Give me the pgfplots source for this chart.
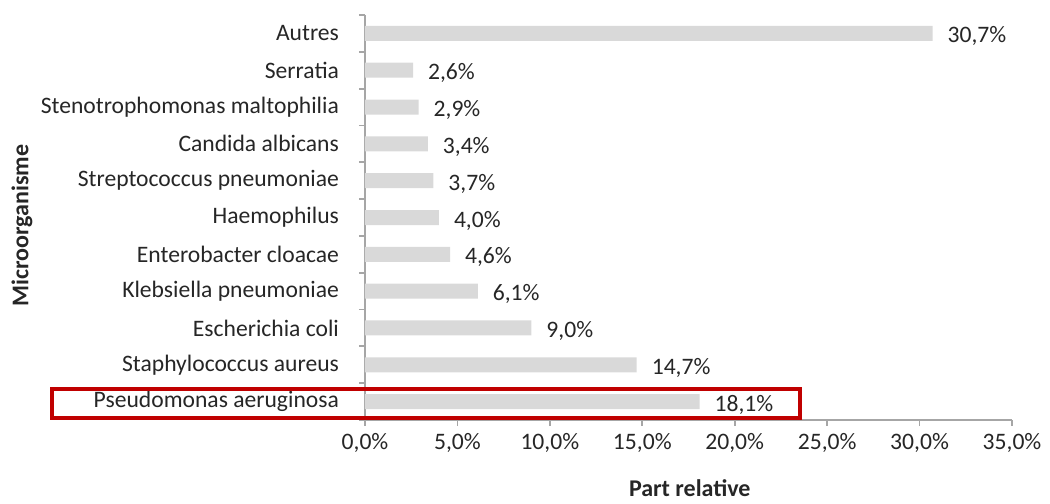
\documentclass[border=0pt]{standalone}
\usepackage{pgfplots}
\pgfplotsset{compat=1.18}
\usepackage{fontspec}
\setmainfont{Carlito}
\definecolor{bargray}{HTML}{D9D9D9}
\definecolor{axgray}{HTML}{A6A6A6}
\definecolor{txt}{HTML}{262626}
\definecolor{boxred}{HTML}{C00000}
\begin{document}
\begin{tikzpicture}
\begin{axis}[
  at={(0,0)}, anchor=south west,
  scale only axis,
  width=323.5pt, height=202.5pt,
  xmin=0, xmax=35, ymin=-0.5, ymax=10.5,
  clip=false,
  axis x line*=bottom, axis y line*=left,
  axis line style={axgray, line width=0.9pt},
  major tick length=3pt,
  tick align=outside,
  xtick={0,5,...,35},
  xticklabels={{0,0\%},{5,0\%},{10,0\%},{15,0\%},{20,0\%},{25,0\%},{30,0\%},{35,0\%}},
  xtick style={draw=axgray, line width=0.9pt},
  xticklabel style={font=\fontsize{11.8}{13}\selectfont, text=txt, yshift=0pt},
  ytick={0,...,10},
  yticklabels={Pseudomonas aeruginosa, Staphylococcus aureus, Escherichia coli, Klebsiella pneumoniae, Enterobacter cloacae, Haemophilus, Streptococcus pneumoniae, Candida albicans, Stenotrophomonas maltophilia, Serratia, Autres},
  ytick style={draw=none},
  yticklabel style={font=\fontsize{11.8}{13}\selectfont, text=txt, xshift=-6.5pt},
  extra y ticks={-0.5,0.5,...,10.5},
  extra y tick labels={},
  extra y tick style={ytick style={draw=axgray, line width=0.9pt}},
  xlabel={Part relative},
  xlabel style={font=\fontsize{12}{14}\selectfont\bfseries, text=txt, at={(axis description cs:0.502,-0.168)}, anchor=center},
  ylabel={Microorganisme},
  ylabel style={font=\fontsize{12}{14}\selectfont\bfseries, text=txt, at={(axis description cs:-0.530,0.48)}, anchor=center, rotate=0},
  xbar, bar width=7.5pt,
  nodes near coords,
  point meta=explicit symbolic,
  every node near coord/.append style={font=\fontsize{11.8}{13}\selectfont, text=txt, anchor=west, xshift=4pt, yshift=-1.5pt},
]
\addplot[fill=bargray, draw=none] coordinates {
  (18.1,0) [18,1\%]
  (14.7,1) [14,7\%]
  (9.0,2) [9,0\%]
  (6.1,3) [6,1\%]
  (4.6,4) [4,6\%]
  (4.0,5) [4,0\%]
  (3.7,6) [3,7\%]
  (3.4,7) [3,4\%]
  (2.9,8) [2,9\%]
  (2.6,9) [2,6\%]
  (30.7,10) [30,7\%]
};
\draw[boxred, line width=2pt] (axis cs:-16.93,-0.446) rectangle (axis cs:23.53,0.342);
\end{axis}
\useasboundingbox (-182.5pt,-40pt) rectangle (342.5pt,210pt);
\end{tikzpicture}
\end{document}
